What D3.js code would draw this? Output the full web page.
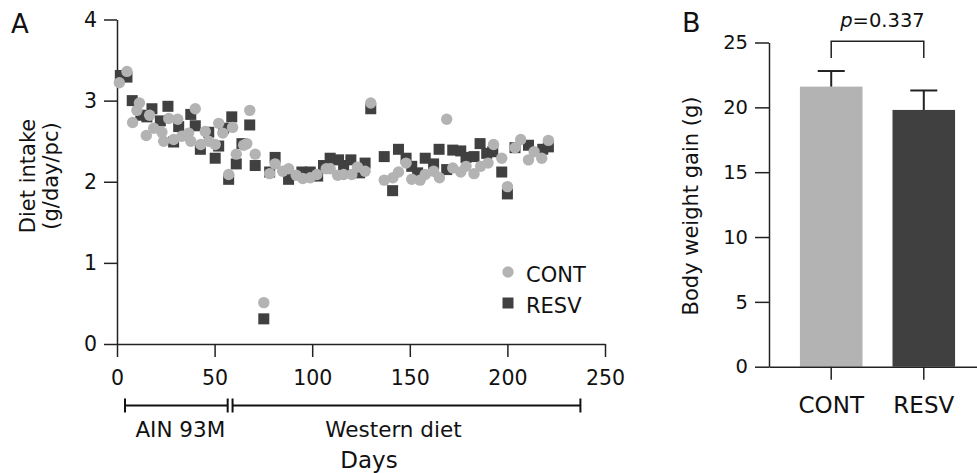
<!DOCTYPE html>
<html>
<head>
<meta charset="utf-8">
<script src="https://cdn.jsdelivr.net/npm/d3@7"></script>
<style>
  body { margin: 0; background: #fff; }
  svg text { font-family: "DejaVu Sans", Verdana, sans-serif; fill: #111; }
  .axis path, .axis line { stroke: #222; stroke-width: 1.5; }
</style>
</head>
<body>
<svg id="chart" width="977" height="473"></svg>
<script>
// panel A: diet intake (g/day/pc) per measurement day
const contDays = [1.2, 5.1, 8.0, 10.2, 11.5, 15.0, 16.7, 18.8, 23.0, 23.9, 26.5, 29.0, 31.1, 33.2, 36.7, 37.8,
  40.1, 42.9, 45.2, 47.0, 50.3, 52.1, 54.2, 57.2, 59.2, 61.1, 64.9, 66.5, 68.0, 70.8, 75.2, 78.2, 81.0,
  84.9, 87.9, 91.8, 95.2, 99.0, 102.4, 107.2, 109.2, 113.0, 116.1, 120.3, 123.2, 127.1, 130.0, 136.9,
  141.3, 144.2, 148.1, 151.0, 155.3, 157.9, 162.2, 165.2, 168.9, 172.0, 176.1, 178.8, 182.9, 186.3,
  190.1, 192.9, 197.1, 200.0, 203.9, 206.8, 210.8, 213.7, 217.6, 221.0];
const contValues = [3.22, 3.36, 2.73, 2.88, 2.97, 2.57, 2.82, 2.66, 2.61, 2.50, 2.78, 2.52, 2.77, 2.56, 2.60, 2.50,
  2.90, 2.46, 2.62, 2.50, 2.46, 2.72, 2.60, 2.09, 2.67, 2.34, 2.45, 2.47, 2.88, 2.34, 0.51, 2.10, 2.22,
  2.13, 2.16, 2.08, 2.04, 2.05, 2.09, 2.16, 2.16, 2.08, 2.09, 2.09, 2.18, 2.13, 2.97, 2.02,
  2.05, 2.12, 2.23, 2.03, 2.02, 2.09, 2.13, 2.05, 2.77, 2.17, 2.12, 2.19, 2.10, 2.19,
  2.23, 2.46, 2.29, 1.94, 2.42, 2.52, 2.27, 2.37, 2.29, 2.51];

const resvDays = [1.7, 5.1, 7.8, 12.2, 15.3, 17.9, 22.2, 26.1, 29.0, 31.6, 37.8, 40.1, 42.7, 47.0, 50.3, 52.1,
  54.6, 57.2, 58.8, 61.1, 64.0, 68.0, 70.8, 75.2, 78.2, 81.0, 87.9, 94.7, 99.0, 102.8, 105.8, 109.2,
  113.5, 116.1, 119.8, 124.3, 127.1, 130.0, 136.9, 141.2, 144.2, 148.1, 151.0, 154.0, 157.9, 162.2,
  165.0, 168.9, 172.0, 176.1, 178.8, 182.9, 186.0, 189.4, 192.5, 197.1, 200.0, 203.9, 210.8, 218.1, 221.0];
const resvValues = [3.31, 3.29, 3.00, 2.82, 2.80, 2.90, 2.75, 2.93, 2.49, 2.68, 2.83, 2.69, 2.40, 2.61, 2.29, 2.44,
  2.66, 2.03, 2.80, 2.22, 2.47, 2.70, 2.20, 0.31, 2.12, 2.30, 2.03, 2.12, 2.12, 2.07, 2.20, 2.29,
  2.27, 2.20, 2.27, 2.11, 2.23, 2.90, 2.31, 1.89, 2.40, 2.29, 2.19, 2.11, 2.29, 2.22,
  2.40, 2.15, 2.39, 2.38, 2.30, 2.31, 2.47, 2.35, 2.37, 2.12, 1.85, 2.42, 2.45, 2.40, 2.43];

const xTicksA = [0, 50, 100, 150, 200, 250];
const yTicksA = [0, 1, 2, 3, 4];
const dietPeriods = [
  { label: "AIN 93M", start: 4.1, end: 56.7 },
  { label: "Western diet", start: 59.2, end: 237.4 },
];

// panel B: body weight gain (g), mean + SEM
const groups = ["CONT", "RESV"];
const gainMean = [21.6, 19.8];
const gainSem = [1.2, 1.5];
const yTicksB = [0, 5, 10, 15, 20, 25];
const pLevel = [25.1, 23.8];

const COLORS = { CONT: "#b3b3b3", RESV: "#404040" };

const svg = d3.select("#chart");

// ---------- panel A ----------
const x = d3.scaleLinear().domain([0, 250]).range([117, 605]);
const y = d3.scaleLinear().domain([0, 4]).range([344, 19.5]);

svg.append("g")
  .attr("class", "axis")
  .attr("transform", "translate(0,344)")
  .call(d3.axisBottom(x).tickValues(xTicksA).tickSize(13).tickPadding(13).tickSizeOuter(0))
  .call((g) => g.selectAll("text").attr("font-size", 20.5));

svg.append("g")
  .attr("class", "axis")
  .attr("transform", "translate(117,0)")
  .call(d3.axisLeft(y).tickValues(yTicksA).tickFormat(d3.format("d"))
    .tickSize(13).tickPadding(7).tickSizeOuter(0))
  .call((g) => g.selectAll("text").attr("font-size", 20.5));

svg.append("g")
  .selectAll("rect")
  .data(d3.zip(resvDays, resvValues))
  .join("rect")
  .attr("x", ([d]) => x(d) - 5.5)
  .attr("y", ([, v]) => y(v) - 5.5)
  .attr("width", 11)
  .attr("height", 11)
  .attr("fill", COLORS.RESV);

svg.append("g")
  .selectAll("circle")
  .data(d3.zip(contDays, contValues))
  .join("circle")
  .attr("cx", ([d]) => x(d))
  .attr("cy", ([, v]) => y(v))
  .attr("r", 5.7)
  .attr("fill", COLORS.CONT);

// legend
const legend = svg.append("g").attr("transform", "translate(508,272)");
legend.append("circle").attr("r", 5.7).attr("fill", COLORS.CONT);
legend.append("rect").attr("x", -5.5).attr("y", 25.5).attr("width", 11).attr("height", 11).attr("fill", COLORS.RESV);
legend.append("text").attr("x", 18).attr("y", 9.5).attr("font-size", 21).text("CONT");
legend.append("text").attr("x", 18).attr("y", 40.5).attr("font-size", 21).text("RESV");

// diet period brackets
const bracketY = 405.5;
const labelShift = [4, -13];
const periods = svg.append("g").attr("stroke", "#111").attr("stroke-width", 2);
dietPeriods.forEach((p, i) => {
  periods.append("line").attr("x1", x(p.start)).attr("x2", x(p.end)).attr("y1", bracketY).attr("y2", bracketY);
  [p.start, p.end].forEach((d) => {
    periods.append("line").attr("x1", x(d)).attr("x2", x(d)).attr("y1", bracketY - 7).attr("y2", bracketY + 7);
  });
  svg.append("text")
    .attr("x", (x(p.start) + x(p.end)) / 2 + labelShift[i])
    .attr("y", 437)
    .attr("text-anchor", "middle")
    .attr("font-size", 21.5)
    .text(p.label);
});

svg.append("text")
  .attr("x", 369)
  .attr("y", 468)
  .attr("text-anchor", "middle")
  .attr("font-size", 23)
  .text("Days");

svg.append("text")
  .attr("transform", "translate(35,176) rotate(-90)")
  .attr("text-anchor", "middle")
  .attr("font-size", 21)
  .text("Diet intake");
svg.append("text")
  .attr("transform", "translate(58,176) rotate(-90)")
  .attr("text-anchor", "middle")
  .attr("font-size", 21)
  .text("(g/day/pc)");

svg.append("text").attr("x", 11).attr("y", 33).attr("font-size", 26).text("A");

// ---------- panel B ----------
const xb = d3.scaleBand().domain(groups).range([769, 986]).paddingInner(0.324).paddingOuter(0.334);
const yb = d3.scaleLinear().domain([0, 25]).range([366.7, 42.5]);

svg.append("g")
  .selectAll("rect")
  .data(groups)
  .join("rect")
  .attr("x", (g) => xb(g))
  .attr("width", xb.bandwidth())
  .attr("y", (g, i) => yb(gainMean[i]))
  .attr("height", (g, i) => yb(0) - yb(gainMean[i]))
  .attr("fill", (g) => COLORS[g]);

const err = svg.append("g").attr("stroke", "#222").attr("stroke-width", 2);
groups.forEach((g, i) => {
  const cx = xb(g) + xb.bandwidth() / 2;
  err.append("line").attr("x1", cx).attr("x2", cx)
    .attr("y1", yb(gainMean[i])).attr("y2", yb(gainMean[i] + gainSem[i]));
  err.append("line").attr("x1", cx - 13.5).attr("x2", cx + 13.5)
    .attr("y1", yb(gainMean[i] + gainSem[i])).attr("y2", yb(gainMean[i] + gainSem[i]));
});

svg.append("g")
  .attr("class", "axis")
  .attr("transform", "translate(0,366.7)")
  .call(d3.axisBottom(xb).tickSize(13).tickPadding(17).tickSizeOuter(0))
  .call((g) => g.selectAll("text").attr("font-size", 23));

svg.append("g")
  .attr("class", "axis")
  .attr("transform", "translate(769,0)")
  .call(d3.axisLeft(yb).tickValues(yTicksB).tickSize(14).tickPadding(7).tickSizeOuter(0))
  .call((g) => g.selectAll("text").attr("font-size", 19.5));

svg.append("text")
  .attr("transform", "translate(698,206) rotate(-90)")
  .attr("text-anchor", "middle")
  .attr("font-size", 21)
  .text("Body weight gain (g)");

// significance bracket
const c0 = xb(groups[0]) + xb.bandwidth() / 2;
const c1 = xb(groups[1]) + xb.bandwidth() / 2;
svg.append("path")
  .attr("d", `M${c0},${yb(pLevel[1])}V${yb(pLevel[0])}H${c1}V${yb(pLevel[1])}`)
  .attr("fill", "none")
  .attr("stroke", "#222")
  .attr("stroke-width", 1.5);

const pText = svg.append("text")
  .attr("x", (c0 + c1) / 2 + 5)
  .attr("y", 27)
  .attr("text-anchor", "middle")
  .attr("font-size", 19.5);
pText.append("tspan").attr("font-style", "italic").text("p");
pText.append("tspan").text("=0.337");

svg.append("text").attr("x", 682).attr("y", 32).attr("font-size", 27).text("B");
</script>
</body>
</html>
